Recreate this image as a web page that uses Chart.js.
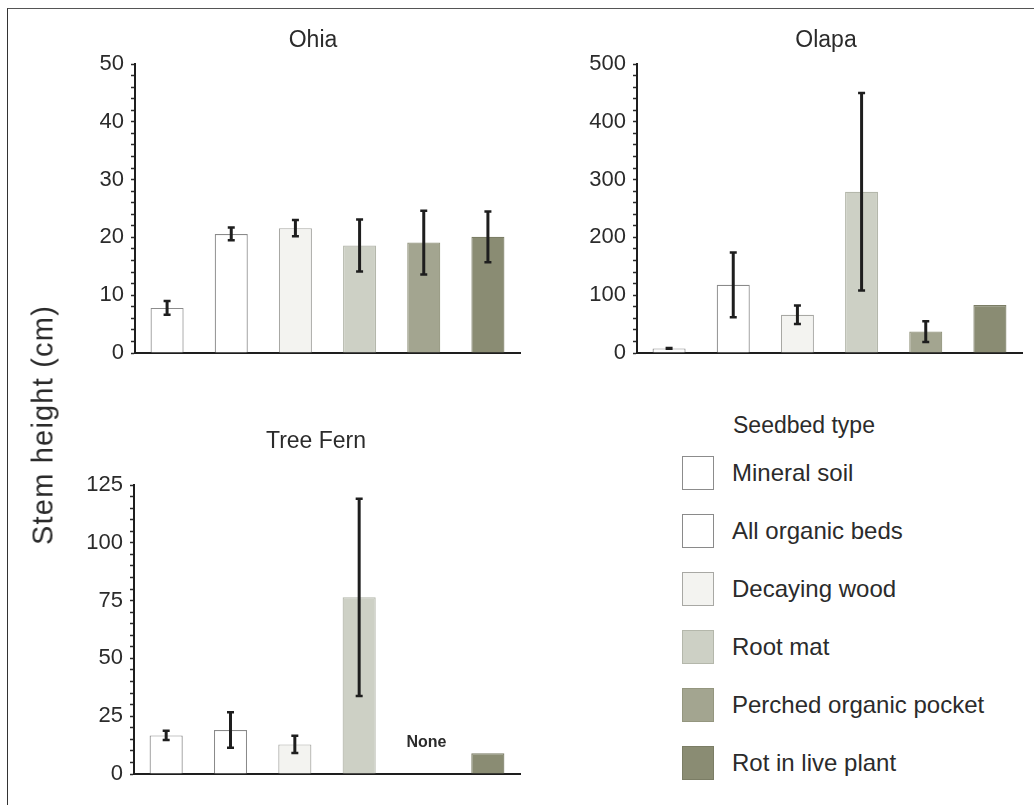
<!DOCTYPE html>
<html>
<head>
<meta charset="utf-8">
<script src="https://cdn.jsdelivr.net/npm/chart.js@4.4.1/dist/chart.umd.min.js"></script>
<style>
  html, body { margin: 0; padding: 0; background: #ffffff; }
  body { width: 1034px; height: 805px; position: relative; overflow: hidden;
         font-family: "Liberation Sans", Arial, Helvetica, sans-serif; color: #2b2b2b; }
  .frame { position: absolute; left: 7px; top: 8px; width: 1040px; height: 820px;
           border-left: 1px solid #333; border-top: 1px solid #555; }
  canvas { position: absolute; }
  .title { position: absolute; font-size: 23px; line-height: 1; white-space: nowrap;
           transform: translateX(-50%); }
  .ylab { position: absolute; left: 43px; top: 425px; font-size: 29px; line-height: 1;
          letter-spacing: 1.2px; white-space: nowrap;
          transform: translate(-50%, -50%) rotate(-90deg); }
  .lghead { position: absolute; left: 733px; top: 414px; font-size: 23px; line-height: 1; white-space: nowrap; }
  .sw { position: absolute; left: 682px; width: 30px; height: 32px; box-sizing: content-box; }
  .lgtext { position: absolute; left: 732px; font-size: 24px; line-height: 1; white-space: nowrap; }
</style>
</head>
<body>
<div class="frame"></div>
<canvas id="ohia" width="540" height="380" style="left:0px;top:0px;"></canvas>
<canvas id="olapa" width="494" height="380" style="left:540px;top:0px;"></canvas>
<canvas id="treefern" width="540" height="405" style="left:0px;top:400px;"></canvas>
<div class="title" style="left:313px;top:28px;">Ohia</div>
<div class="title" style="left:826px;top:28px;">Olapa</div>
<div class="title" style="left:316px;top:429px;">Tree Fern</div>
<div class="ylab">Stem height (cm)</div>
<div class="lghead">Seedbed type</div>
<div id="legend"></div>
<script>
// ---------- data ----------
const categories = ['Mineral soil', 'All organic beds', 'Decaying wood', 'Root mat', 'Perched organic pocket', 'Rot in live plant'];

const ohiaMeans  = [7.8, 20.6, 21.6, 18.6, 19.1, 20.1];
const ohiaErrors = [1.2, 1.1, 1.4, 4.5, 5.5, 4.4];
const ohiaTickLabels = [0, 10, 20, 30, 40, 50];

const olapaMeans  = [8, 118, 66, 279, 37, 83];
const olapaErrors = [0.6, 56, 16, 171, 18, null];
const olapaTickLabels = [0, 100, 200, 300, 400, 500];

const treeFernMeans  = [16.7, 19.0, 12.8, 76.4, null, 9.0];
const treeFernErrors = [2.0, 7.7, 3.7, 42.7, null, null];
const treeFernNotes  = [null, null, null, null, 'None', null];
const treeFernTickLabels = [0, 25, 50, 75, 100, 125];

// ---------- styles ----------
const fillColors   = ['#ffffff', '#ffffff', '#f3f3f0', '#cdd0c5', '#a3a590', '#8a8c73'];
const borderColors = ['#8c8c8c', '#8a8a8a', '#a8a8a4', '#b4b7ab', '#94967f', '#7b7d65'];

// ---------- plugin: error bars + notes ----------
const errorBarPlugin = {
  id: 'errorBars',
  afterDatasetsDraw(chart, args, opts) {
    const ctx = chart.ctx;
    const xs = chart.scales.x, ys = chart.scales.y;
    const data = chart.data.datasets[0].data;
    ctx.save();
    ctx.strokeStyle = '#1e1e1e';
    (opts.errors || []).forEach((e, i) => {
      const v = data[i];
      if (e == null || v == null) return;
      const x = xs.getPixelForValue(i);
      const yT = ys.getPixelForValue(v + e);
      const yB = ys.getPixelForValue(Math.max(v - e, 0));
      ctx.lineWidth = 3;
      ctx.beginPath(); ctx.moveTo(x, yT); ctx.lineTo(x, yB); ctx.stroke();
      ctx.lineWidth = 2.5;
      ctx.beginPath();
      ctx.moveTo(x - 3.5, yT); ctx.lineTo(x + 3.5, yT);
      ctx.moveTo(x - 3.5, yB); ctx.lineTo(x + 3.5, yB);
      ctx.stroke();
    });
    (opts.notes || []).forEach((n, i) => {
      if (!n) return;
      const x = xs.getPixelForValue(i) + 3;
      ctx.fillStyle = '#2b2b2b';
      ctx.font = 'bold 16px "Liberation Sans", Arial, sans-serif';
      ctx.textAlign = 'center';
      ctx.textBaseline = 'middle';
      ctx.fillText(n, x, chart.chartArea.bottom - 31);
    });
    ctx.restore();
  }
};

function makePanel(id, means, errors, notes, tickLabels, yWidth, pad) {
  const max = tickLabels[tickLabels.length - 1];
  const major = tickLabels[1] - tickLabels[0];
  return new Chart(document.getElementById(id), {
    type: 'bar',
    data: {
      labels: categories,
      datasets: [{
        data: means,
        backgroundColor: fillColors,
        borderColor: borderColors,
        borderWidth: 1.2,
        borderSkipped: 'bottom',
        barPercentage: 0.515,
        categoryPercentage: 1.0
      }]
    },
    options: {
      responsive: false,
      devicePixelRatio: 1,
      animation: false,
      events: [],
      layout: { padding: pad },
      plugins: {
        legend: { display: false },
        tooltip: { enabled: false },
        title: { display: false },
        errorBars: { errors: errors, notes: notes }
      },
      scales: {
        x: {
          type: 'category',
          offset: true,
          grid: { display: false, drawTicks: false },
          ticks: { display: false },
          border: { display: true, color: '#1e1e1e', width: 2 },
          afterFit: s => { s.height = 0; }
        },
        y: {
          min: 0, max: max,
          grid: { display: true, drawOnChartArea: false, drawTicks: true, tickLength: 4,
                  tickColor: '#2a2a2a', tickWidth: 1.5 },
          border: { display: true, color: '#1e1e1e', width: 2 },
          ticks: {
            stepSize: major / 5,
            autoSkip: false,
            padding: 7,
            color: '#2b2b2b',
            font: { family: '"Liberation Sans", Arial, sans-serif', size: 22 },
            callback: v => (tickLabels.includes(v) ? String(v) : '')
          },
          afterFit: s => { s.width = yWidth; }
        }
      }
    },
    plugins: [errorBarPlugin]
  });
}

makePanel('ohia', ohiaMeans, ohiaErrors, null, ohiaTickLabels, 135,
          { top: 64, right: 20, bottom: 27, left: 0 });
makePanel('olapa', olapaMeans, olapaErrors, null, olapaTickLabels, 97,
          { top: 64, right: 12, bottom: 27, left: 0 });
makePanel('treefern', treeFernMeans, treeFernErrors, treeFernNotes, treeFernTickLabels, 134,
          { top: 85, right: 20, bottom: 31, left: 0 });

// ---------- legend ----------
const lg = document.getElementById('legend');
categories.forEach((c, i) => {
  const top = 456 + 58 * i;
  const sw = document.createElement('div');
  sw.className = 'sw';
  sw.style.top = top + 'px';
  sw.style.background = fillColors[i];
  sw.style.border = '1px solid ' + borderColors[i];
  lg.appendChild(sw);
  const t = document.createElement('div');
  t.className = 'lgtext';
  t.style.top = (top + 17 - 11.7) + 'px';
  t.textContent = c;
  lg.appendChild(t);
});
</script>
</body>
</html>
